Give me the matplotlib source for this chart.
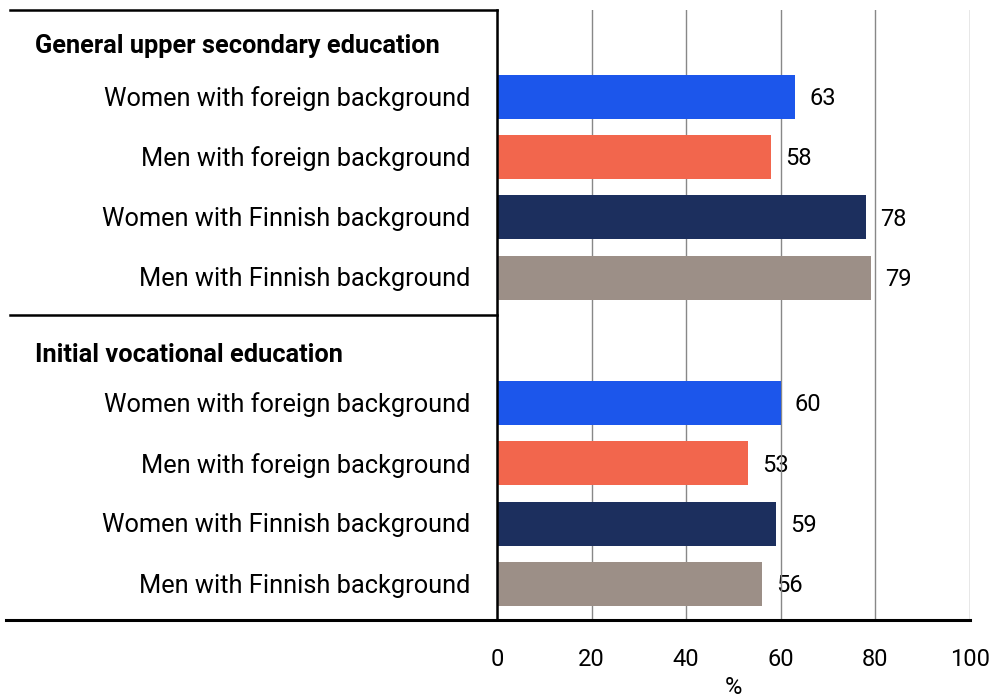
import numpy as np
import matplotlib
matplotlib.use("Agg")
import matplotlib.pyplot as plt

plt.rcParams['font.family'] = ['Roboto', 'DejaVu Sans']

groups = ['General upper secondary education', 'Initial vocational education']
categories = ['Women with foreign background', 'Men with foreign background',
              'Women with Finnish background', 'Men with Finnish background']
general_vals = [63, 58, 78, 79]
vocational_vals = [60, 53, 59, 56]
colors = ['#1C56EB', '#F2664D', '#1C2F5E', '#9C8F87']
xticks = [0, 20, 40, 60, 80, 100]

fig = plt.figure(figsize=(9.96, 6.97), dpi=100)
ax = fig.add_axes([497 / 996, 1 - 620 / 697, 473 / 996, 610 / 697])

# row layout (1 unit = one bar row)
group_first = [1.44, 6.52]
header_pos = [0.60, 5.72]
sep_pos = 5.06
bar_h = 0.73
label_x = -27 / 473
header_x = (35 - 497) / 473

for g, vals in enumerate([general_vals, vocational_vals]):
    ys = group_first[g] + np.arange(len(vals))
    ax.barh(ys, vals, height=bar_h, color=colors, zorder=3)
    for y, v, cat in zip(ys, vals, categories):
        ax.text(v + 3, y + 0.03, str(v), va='center', ha='left', fontsize=17, zorder=1)
        ax.text(label_x, y + 0.03, cat, transform=ax.get_yaxis_transform(),
                va='center', ha='right', fontsize=18.3)
    ax.text(header_x, header_pos[g], groups[g], transform=ax.get_yaxis_transform(),
            va='center', ha='left', fontsize=18.3, fontweight='bold')

ax.set_xlim(0, 100)
ax.set_ylim(10.12, 0)
ax.set_xticks(xticks)
ax.set_yticks([])
ax.tick_params(axis='x', length=0, pad=20, labelsize=17)
ax.set_xlabel('%', fontsize=17, labelpad=4)
ax.grid(axis='x', color='#888888', linewidth=1, zorder=2)

for s in ['top', 'right']:
    ax.spines[s].set_visible(False)
ax.spines['left'].set_linewidth(1.8)
ax.spines['left'].set_zorder(4)
ax.spines['bottom'].set_visible(False)

left = (10 - 497) / 473
tr = ax.get_yaxis_transform()
ax.plot([left, 0], [0, 0], transform=tr, color='black', lw=1.8, clip_on=False)
ax.plot([left, 0], [sep_pos, sep_pos], transform=tr, color='black', lw=1.8, clip_on=False)
ax.plot([(6 - 497) / 473, 1], [10.12, 10.12], transform=tr, color='black', lw=2.2,
        clip_on=False, zorder=5)

fig.savefig('out.png', dpi=100)
